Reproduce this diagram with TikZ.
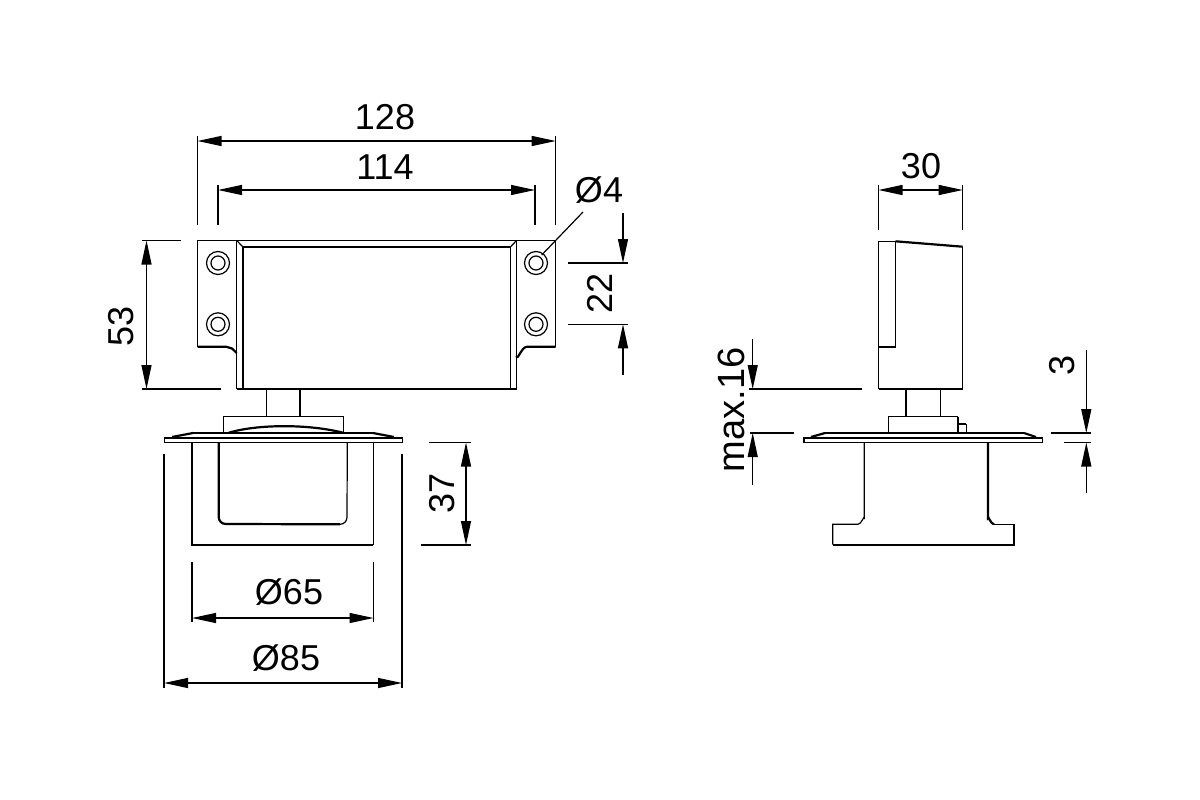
\documentclass[tikz,border=0pt]{standalone}
\usepackage{fontspec}
\setmainfont{Liberation Sans}
\usetikzlibrary{arrows.meta}
\tikzset{
  thin line/.style={line width=1.2pt,black},
  thick line/.style={line width=2.2pt,black},
  dim/.style={line width=1.2pt,black},
  dimboth/.style={dim,{Triangle[length=24pt,width=10pt]}-{Triangle[length=24pt,width=10pt]}},
  dimtip/.style={dim,-{Triangle[length=24pt,width=10pt]}},
  label/.style={font=\fontsize{36}{36}\selectfont,inner sep=0pt,black},
  vlabel/.style={label,rotate=90}
}
\begin{document}
\begin{tikzpicture}[x=1pt,y=-1pt,line join=miter]
\useasboundingbox (0,0) rectangle (1200,800);
\fill[white] (0,0) rectangle (1200,800);

% ---- front view: housing
\draw[thin line] (197.5,346.7) -- (197.5,240.5) -- (555.7,240.5) -- (555.7,346.7);
\draw[thick line] (197.5,346.7) -- (226,346.7) -- (232,348.5) -- (236.7,353);
\draw[thick line] (555.7,346.7) -- (527,346.7) to[out=180,in=-80] (516.5,356);
\draw[thin line] (236.7,240.5) -- (236.7,389);
\draw[thin line] (516.5,240.5) -- (516.5,389);
\draw[thick line] (236.7,389) -- (516.5,389);
\draw[thin line] (236.7,240.5) -- (242.7,246.7);
\draw[thin line] (516.5,240.5) -- (510.7,246.7);
\draw[thick line] (242.7,389) -- (242.7,246.7) -- (510.7,246.7);
\draw[thin line] (510.7,246.7) -- (510.7,389);
% screws
\foreach \cx/\cy in {218/263,218/324.3,536/263,536/324.3}{
  \draw[thin line] (\cx,\cy) circle[radius=11.5];
  \draw[thin line] (\cx,\cy) circle[radius=7];
}
% stem and collar
\draw[thin line] (266.3,389) -- (266.3,416.7);
\draw[thick line] (300,389) -- (300,416.7);
\draw[thin line] (223.7,432.7) -- (223.7,416.7) -- (343.3,416.7) -- (343.3,432.7);
\draw[thick line] (229,432.7) .. controls (258,424) and (309,424) .. (343,432.7);
% flange
\draw[thin line] (164.3,438) rectangle (402.3,442.5);
\draw[thick line] (164.3,438) -- (402.3,438);
\draw[thin line] (193,433) -- (373,433);
\draw[thick line] (172,437) -- (193,433);
\draw[thick line] (394,437) -- (373,433);
% handle
\draw[thick line] (191.7,442.5) -- (191.7,545) -- (373.3,545);
\draw[thin line] (373.3,442.5) -- (373.3,545);
\draw[thick line] (218.7,442.5) -- (218.7,517) arc[start angle=180,end angle=90,radius=7] -- (340,524.3);
\draw[thin line] (340,524.3) arc[start angle=90,end angle=0,radius=7] -- (347.3,442.5);

% ---- front view: dimensions
\draw[dim] (197.5,136) -- (197.5,225);
\draw[dim] (555.7,136) -- (555.7,225);
\draw[dimboth] (197.5,141) -- (555.7,141);
\node[label] (t128) at (385,117) {128};
\draw[dim] (218,185) -- (218,225);
\draw[dim] (535,185) -- (535,225);
\draw[dimboth] (218,190) -- (535,190);
\node[label] (t114) at (385,167) {114};
\draw[dim] (142,240.5) -- (181,240.5);
\draw[thick line] (142,389) -- (221,389);
\draw[dimboth] (146.5,240.5) -- (146.5,389);
\node[vlabel] (t53) at (121,326) {53};
\node[label] (t4) at (599,190) {Ø4};
\draw[dim] (583,212) -- (541.7,255);
\draw[dim] (568,263) -- (628,263);
\draw[dim] (568,324.3) -- (628,324.3);
\draw[dimtip] (623,213) -- (623,263);
\draw[dimtip] (623,375) -- (623,324.3);
\node[vlabel] (t22) at (600,293) {22};
\draw[dim] (429,442.5) -- (471,442.5);
\draw[dim] (421,545) -- (471,545);
\draw[dimboth] (466,442.5) -- (466,545);
\node[vlabel] (t37) at (442,493) {37};
\draw[dim] (192,562) -- (192,622);
\draw[dim] (373.5,562) -- (373.5,622);
\draw[dimboth] (192,618) -- (373.5,618);
\node[label] (t65) at (289,592) {Ø65};
\draw[dim] (164,454) -- (164,688);
\draw[thick line] (402,454) -- (402,688);
\draw[dimboth] (164,683) -- (402,683);
\node[label] (t85) at (286,658) {Ø85};

% ---- side view
\draw[thin line] (895.5,241.3) -- (878.5,241.3) -- (878.5,389);
\draw[thin line] (962.7,246.7) -- (962.7,389);
\draw[thick line] (878.5,389) -- (962.7,389);
\draw[thick line] (895.5,241.3) -- (962.7,246.7);
\draw[thin line] (895.5,241.3) -- (895.5,346.7);
\draw[thick line] (878.5,346.7) -- (895.5,346.7);
\draw[thick line] (906,389) -- (906,416.7);
\draw[thin line] (940.3,389) -- (940.3,416.7);
\draw[thin line] (888.7,433) -- (888.7,416.7) -- (958.3,416.7);
\draw[thick line] (958.3,416.7) -- (958.3,433);
\draw[thick line] (958.3,424.3) -- (966.3,424.3);
\draw[thin line] (966.3,424.3) -- (966.3,433);
\draw[thin line] (804,438) rectangle (1042.3,442.5);
\draw[thick line] (804,438) -- (1042.3,438);
\draw[thin line] (825,433) -- (1024,433);
\draw[thick line] (811,437) -- (825,433);
\draw[thick line] (1036,437) -- (1024,433);
\draw[thin line] (864.3,442.5) -- (864.3,518) to[out=90,in=0] (858,524.3) -- (832.7,524.3) -- (832.7,544.7);
\draw[thick line] (988,442.5) -- (988,518) to[out=90,in=180] (994,524.3);
\draw[thin line] (994,524.3) -- (1014.3,524.3);
\draw[thick line] (1014.3,524.3) -- (1014.3,544.7) -- (832.7,544.7);

% ---- side view: dimensions
\draw[dim] (878.5,185) -- (878.5,230);
\draw[dim] (962.7,185) -- (962.7,230);
\draw[dimboth] (878.5,190) -- (962.7,190);
\node[label] (t30) at (921,166) {30};
\draw[thick line] (749,389) -- (862,389);
\draw[dim] (750,433) -- (794,433);
\draw[dimtip] (752.7,339) -- (752.7,389);
\draw[dimtip] (752.7,485) -- (752.7,433);
\node[vlabel,font=\fontsize{38}{38}\selectfont] (t16) at (731,410) {max.16};
\draw[dim] (1051,433) -- (1091,433);
\draw[dim] (1064,442.5) -- (1091,442.5);
\draw[dimtip] (1086.3,350) -- (1086.3,433);
\draw[dimtip] (1086.3,493) -- (1086.3,442.5);
\node[vlabel] (t3) at (1062,365) {3};
\end{tikzpicture}
\end{document}
